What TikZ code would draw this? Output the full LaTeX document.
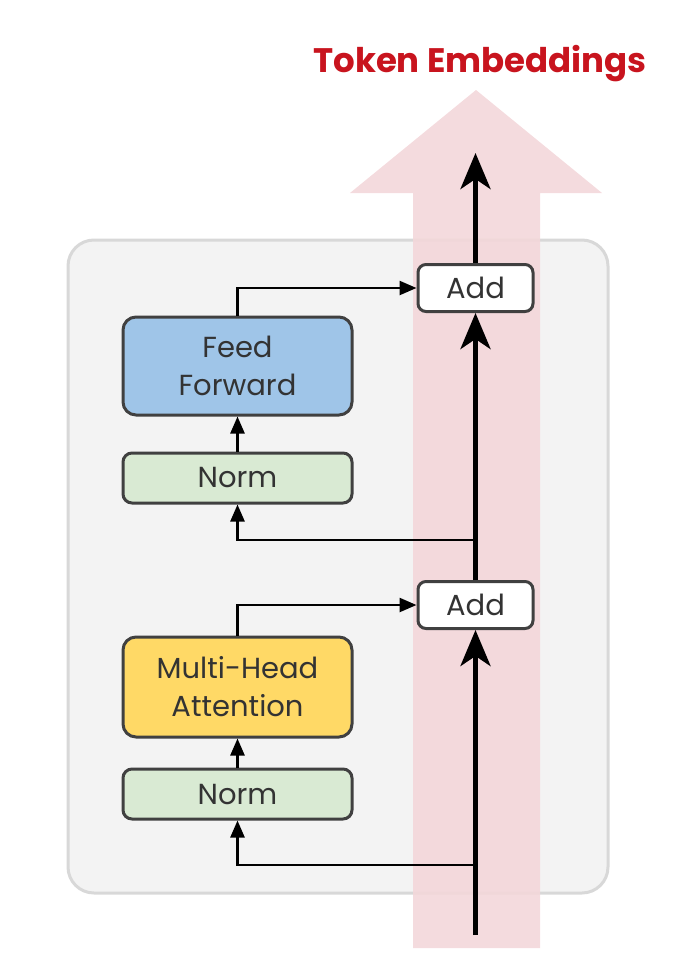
\documentclass[tikz,border=0pt]{standalone}
\usepackage{fontspec}
\setmainfont{Poppins}
\usetikzlibrary{arrows.meta}
\definecolor{boxgray}{HTML}{F3F3F3}
\definecolor{boxedge}{HTML}{D8D8D8}
\definecolor{pinkarrow}{HTML}{F3D7DA}
\definecolor{titlered}{HTML}{C8141E}
\definecolor{ffblue}{HTML}{9FC5E8}
\definecolor{normgreen}{HTML}{D9EAD3}
\definecolor{mhayellow}{HTML}{FFD966}
\definecolor{edgedark}{HTML}{404040}
\definecolor{txt}{HTML}{333333}
\tikzset{
  blockbox/.style={draw=edgedark, line width=3pt, rounded corners=13pt, minimum width=229pt, text=txt, align=center, inner sep=0pt, font=\fontsize{29}{38}\selectfont},
  normbox/.style={blockbox, fill=normgreen, minimum height=50pt, rounded corners=9pt},
  addbox/.style={draw=edgedark, line width=3pt, rounded corners=8pt, fill=white, minimum width=115pt, minimum height=47pt, text=txt, inner sep=0pt, font=\fontsize{29}{34}\selectfont},
  thinarrow/.style={draw=black, line width=2.5pt, -{Triangle[length=17pt,width=14pt]}},
  mainarrow/.style={draw=black, line width=5pt, -{Stealth[length=36pt,width=30pt,inset=10pt]}},
}
\begin{document}
\begin{tikzpicture}[x=1pt,y=-1pt]
\useasboundingbox (0,0) rectangle (693,959);
% background block
\draw[fill=boxgray, draw=boxedge, line width=3pt, rounded corners=26pt] (68,240) rectangle (608,893);
% pink arrow
\fill[pinkarrow, opacity=0.9] (413,948) -- (413,193) -- (350,193) -- (476,90) -- (602,193) -- (540,193) -- (540,948) -- cycle;
% title
\node[text=titlered, font=\bfseries\fontsize{34}{38}\selectfont] (title) at (480,64) {Token Embeddings};
% nodes
\node[blockbox, fill=ffblue, minimum height=98pt] (ff) at (237.5,366) {Feed\\Forward};
\node[normbox] (norm2) at (237.5,478) {Norm};
\node[blockbox, fill=mhayellow, minimum height=100pt] (mha) at (237.5,687) {Multi-Head\\Attention};
\node[normbox] (norm1) at (237.5,794) {Norm};
\node[addbox] (add1) at (475.5,605) {Add};
\node[addbox] (add2) at (475.5,288) {Add};
\coordinate (bot) at (475.5,935);
\coordinate (br1) at (475.5,865);
\coordinate (br2) at (475.5,540);
\coordinate (top) at (475.5,153);
% main path
\draw[mainarrow] (bot) -- (add1.south);
\draw[mainarrow] (add1.north) -- (add2.south);
\draw[mainarrow] (add2.north) -- (top);
% branches
\draw[thinarrow] (br1) -| (norm1.south);
\draw[thinarrow] (norm1.north) -- (mha.south);
\draw[thinarrow] (mha.north) |- (add1.west);
\draw[thinarrow] (br2) -| (norm2.south);
\draw[thinarrow] (norm2.north) -- (ff.south);
\draw[thinarrow] (ff.north) |- (add2.west);
\end{tikzpicture}
\end{document}
